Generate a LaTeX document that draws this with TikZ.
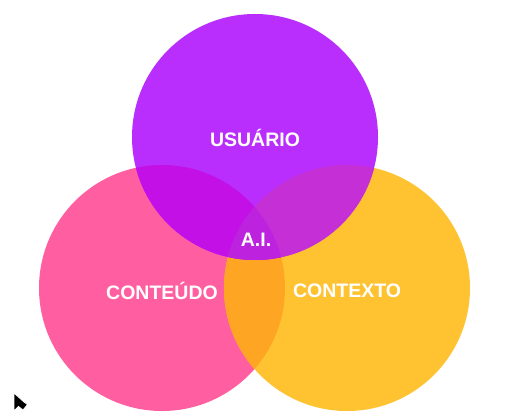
\documentclass[tikz,border=0pt]{standalone}
\usepackage{fontspec}
\setmainfont{Liberation Sans}
\usetikzlibrary{positioning}
\definecolor{roxo}{HTML}{B92EFD}
\definecolor{rosa}{HTML}{FF5EA0}
\definecolor{laranja}{HTML}{FFC332}
\definecolor{rosaroxo}{HTML}{C210E6}
\definecolor{roxolaranja}{HTML}{C42FD6}
\definecolor{rosalaranja}{HTML}{FFA524}
\definecolor{centro}{HTML}{BD22DE}
\tikzset{
  set/.style={circle, minimum size=246pt, inner sep=0pt},
  lbl/.style={text=white, font=\fontsize{19.5}{23}\selectfont\bfseries},
  cursor/.style={fill=black, draw=white, line width=0.8pt, line join=round}
}
\begin{document}
\begin{tikzpicture}[x=1pt, y=-1pt]
\useasboundingbox (0,0) rectangle (529,419);
\node[set, fill=rosa] (conteudo) at (162,288) {};
\node[set, fill=laranja] (contexto) at (347,288) {};
\node[set, fill=roxo] (usuario) at (255,137) {};
% overlaps
\begin{scope}
  \clip (conteudo.center) circle (123pt);
  \fill[rosalaranja] (contexto.center) circle (123pt);
\end{scope}
\begin{scope}
  \clip (conteudo.center) circle (123pt);
  \fill[rosaroxo] (usuario.center) circle (123pt);
\end{scope}
\begin{scope}
  \clip (contexto.center) circle (123pt);
  \fill[roxolaranja] (usuario.center) circle (123pt);
\end{scope}
\begin{scope}
  \clip (conteudo.center) circle (123pt);
  \clip (contexto.center) circle (123pt);
  \fill[centro] (usuario.center) circle (123pt);
\end{scope}
% labels
\node[lbl] (tusuario) at (255,138) {USUÁRIO};
\node[lbl] (tconteudo) at (162,291) {CONTEÚDO};
\node[lbl] (tcontexto) at (347,291) {CONTEXTO};
\node[lbl] (tai) at (256,240) {A.I.};
% pointer
\coordinate (ponta) at (14,393);
\fill[cursor] (ponta) -- ++(0,18) -- ++(4.5,-4.5) -- ++(4.5,3.5) -- ++(4.5,-5.5) -- ++(-3.5,-2.5) -- cycle;
\end{tikzpicture}
\end{document}
